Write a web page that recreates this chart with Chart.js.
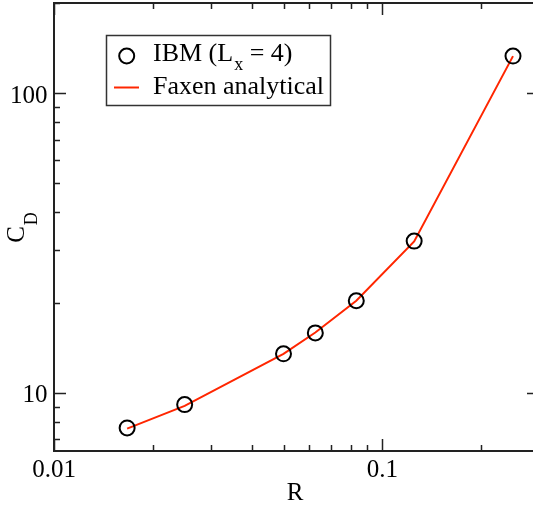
<!DOCTYPE html>
<html>
<head>
<meta charset="utf-8">
<script src="https://cdn.jsdelivr.net/npm/chart.js@4/dist/chart.umd.min.js"></script>
<style>
    html, body { margin: 0; padding: 0; background: #fff; overflow: hidden; }
    #wrap { width: 545px; height: 508px; }
</style>
</head>
<body>
<div id="wrap"><canvas id="cdChart" width="545" height="508"></canvas></div>
<script>
// ============================================================================
// Data
// ============================================================================

const radius = [0.0167, 0.025, 0.05, 0.0625, 0.0833, 0.125, 0.25];
const ibmCd = [7.64, 9.14, 13.5, 15.86, 20.3, 32.1, 133];
const faxenCd = [7.6, 9.05, 13.5, 15.9, 20.3, 32.0, 133];

const xLimits = [0.01, 0.3];
const yLimits = [6.4, 200];
const xMajorTicks = [0.01, 0.1];
const yMajorTicks = [10, 100];

const SERIF = '"Liberation Serif", "DejaVu Serif", serif';
const RED = 'rgb(255, 38, 0)';

// minor ticks at 1..9 x 10^n inside the limits
function logTicks(lo, hi) {
    const out = [];
    for (let d = Math.floor(Math.log10(lo)); d <= Math.ceil(Math.log10(hi)); d++) {
        for (let m = 1; m <= 9; m++) {
            const v = m * Math.pow(10, d);
            if (v >= lo * 0.999 && v <= hi * 1.001) out.push(v);
        }
    }
    return out;
}

function isMajor(v, list) {
    return list.some(t => Math.abs(t - v) / t < 1e-6);
}

// ============================================================================
// Frame, ticks, labels, legend
// ============================================================================

const framePlugin = {
    id: 'framePlugin',
    afterDraw(chart) {
        const { ctx, chartArea: a, scales } = chart;
        const xs = scales.x, ys = scales.y;
        ctx.save();

        // frame
        ctx.strokeStyle = '#222';
        ctx.lineWidth = 2;
        ctx.strokeRect(a.left, a.top, a.right - a.left, a.bottom - a.top);

        // inward ticks on all four sides
        ctx.lineWidth = 1.5;
        ctx.beginPath();
        logTicks(xLimits[0], xLimits[1]).forEach(v => {
            const px = Math.round(xs.getPixelForValue(v)) + 0.5;
            const len = isMajor(v, xMajorTicks) ? 12 : 6;
            ctx.moveTo(px, a.bottom); ctx.lineTo(px, a.bottom - len);
            ctx.moveTo(px, a.top); ctx.lineTo(px, a.top + len);
        });
        logTicks(yLimits[0], yLimits[1]).forEach(v => {
            const py = Math.round(ys.getPixelForValue(v)) + 0.5;
            const len = isMajor(v, yMajorTicks) ? 12 : 6;
            ctx.moveTo(a.left, py); ctx.lineTo(a.left + len, py);
            ctx.moveTo(a.right, py); ctx.lineTo(a.right - len, py);
        });
        ctx.stroke();

        // tick labels
        ctx.fillStyle = '#000';
        ctx.font = '25px ' + SERIF;
        ctx.textBaseline = 'alphabetic';
        ctx.textAlign = 'center';
        xMajorTicks.forEach(v => {
            ctx.fillText(String(v), xs.getPixelForValue(v), a.bottom + 25.5);
        });
        ctx.textAlign = 'right';
        yMajorTicks.forEach(v => {
            ctx.fillText(String(v), a.left - 6.5, ys.getPixelForValue(v) + 9.5);
        });

        // axis titles
        ctx.textAlign = 'center';
        ctx.fillText('R', 295, 499.5);

        ctx.save();
        ctx.translate(24, (a.top + a.bottom) / 2 + 1);
        ctx.rotate(-Math.PI / 2);
        ctx.textAlign = 'left';
        ctx.font = '25px ' + SERIF;
        const cW = ctx.measureText('C').width;
        ctx.font = '18px ' + SERIF;
        const dW = ctx.measureText('D').width;
        const start = -(cW + dW) / 2;
        ctx.font = '25px ' + SERIF;
        ctx.fillText('C', start, 0);
        ctx.font = '18px ' + SERIF;
        ctx.fillText('D', start + cW + 1, 12.5);
        ctx.restore();

        // legend box
        const lx = 106.5, ly = 35.5, lw = 224, lh = 70;
        ctx.fillStyle = '#fff';
        ctx.fillRect(lx, ly, lw, lh);
        ctx.strokeStyle = '#333';
        ctx.lineWidth = 1.5;
        ctx.strokeRect(lx, ly, lw, lh);

        ctx.strokeStyle = '#000';
        ctx.lineWidth = 2;
        ctx.beginPath();
        ctx.arc(126.7, 56, 7.5, 0, Math.PI * 2);
        ctx.stroke();

        ctx.strokeStyle = RED;
        ctx.beginPath();
        ctx.moveTo(114, 87.5); ctx.lineTo(139, 87.5);
        ctx.stroke();

        ctx.fillStyle = '#000';
        ctx.textAlign = 'left';
        let tx = 153;
        ctx.font = '26px ' + SERIF;
        ctx.fillText('IBM (L', tx, 60.7);
        tx += ctx.measureText('IBM (L').width;
        ctx.font = '18px ' + SERIF;
        ctx.fillText('x', tx + 1, 70);
        tx += ctx.measureText('x').width + 1;
        ctx.font = '26px ' + SERIF;
        ctx.fillText(' = 4)', tx, 60.7);
        ctx.fillText('Faxen analytical', 153, 94);

        ctx.restore();
    }
};

// ============================================================================
// Chart
// ============================================================================

function renderChart() {
    const ctx = document.getElementById('cdChart');

    new Chart(ctx, {
        type: 'line',
        data: {
            datasets: [
                {
                    label: 'IBM (Lx = 4)',
                    data: radius.map((r, i) => ({ x: r, y: ibmCd[i] })),
                    showLine: false,
                    pointStyle: 'circle',
                    pointRadius: 7.5,
                    pointBorderWidth: 2,
                    pointBorderColor: '#000',
                    pointBackgroundColor: 'rgba(0,0,0,0)'
                },
                {
                    label: 'Faxen analytical',
                    data: radius.map((r, i) => ({ x: r, y: faxenCd[i] })),
                    borderColor: RED,
                    borderWidth: 2,
                    pointRadius: 0,
                    tension: 0,
                    fill: false
                }
            ]
        },
        options: {
            responsive: false,
            animation: false,
            events: [],
            layout: { autoPadding: false, padding: { top: 3, right: 6, left: 0, bottom: 0 } },
            plugins: {
                legend: { display: false },
                tooltip: { enabled: false }
            },
            scales: {
                x: {
                    type: 'logarithmic',
                    min: xLimits[0],
                    max: xLimits[1],
                    grid: { display: false },
                    border: { display: false },
                    ticks: { display: false },
                    afterFit(scale) { scale.height = 57; }
                },
                y: {
                    type: 'logarithmic',
                    min: yLimits[0],
                    max: yLimits[1],
                    grid: { display: false },
                    border: { display: false },
                    ticks: { display: false },
                    afterFit(scale) { scale.width = 54; }
                }
            }
        },
        plugins: [framePlugin]
    });
}

document.addEventListener('DOMContentLoaded', renderChart);
</script>
</body>
</html>
